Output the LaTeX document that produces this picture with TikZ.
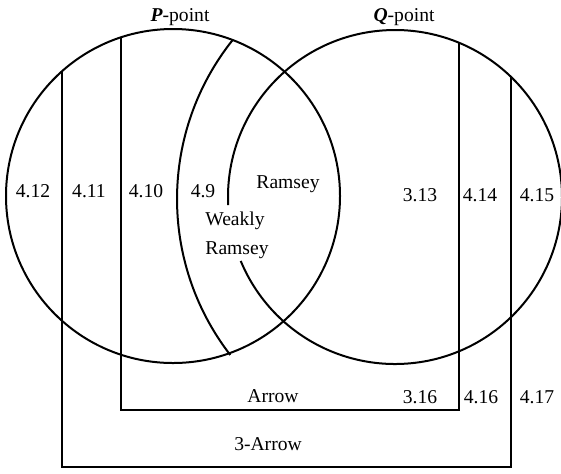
\documentclass[tikz,border=0pt]{standalone}
\usepackage{fontspec}
\setmainfont{Liberation Serif}
\begin{document}
\begin{tikzpicture}[x=0.5pt,y=-0.5pt,
  circ/.style={line width=1pt},
  bar/.style={line width=0.85pt},
  lab/.style={anchor=base,inner sep=0pt,font=\fontsize{9.8}{11}\selectfont}]
\useasboundingbox (0,0) rectangle (561,473);
\fill[white] (0,0) rectangle (561,473);
% centres
\coordinate (cL) at (173,196);
\coordinate (cR) at (395,197);
\coordinate (cW) at (432,199);
% left circle (P-point)
\draw[circ] (cL) circle[radius=167];
% right circle (Q-point), with a gap for "Weakly Ramsey"
\draw[circ] (cR) ++(177.2:167) arc[start angle=177.2, end angle=517.5, radius=167];
% weakly Ramsey arc (4.9 boundary)
\draw[circ] (cW) ++(218.6:255) arc[start angle=218.6, end angle=142.3, radius=255];
% top points of vertical bars
\path (cL) ++({180+acos(111/167)}:167) coordinate (t62);
\path (cL) ++({180+acos(52/167)}:167) coordinate (t121);
\path (cR) ++({360-acos(64/167)}:167) coordinate (t459);
\path (cR) ++({360-acos(116/167)}:167) coordinate (t511);
\coordinate (b121) at (121,410);
\coordinate (b459) at (459,410);
\coordinate (b62) at (62,467);
\coordinate (b511) at (511,467);
% Arrow box
\draw[bar] (t121) -- (b121) -- (b459) -- (t459);
% 3-Arrow box
\draw[bar] (t62) -- (b62) -- (b511) -- (t511);
% labels
\node[lab] (pp) at (180,21) {\textbf{\textit{P}}-point};
\node[lab] (qp) at (404,21) {\textbf{\textit{Q}}-point};
\node[lab] (l412) at (33,197) {4.12};
\node[lab] (l411) at (89,197) {4.11};
\node[lab] (l410) at (146,197) {4.10};
\node[lab] (l49) at (203,197) {4.9};
\node[lab] (ram) at (288,188) {Ramsey};
\node[lab] (wk) at (235,225) {Weakly};
\node[lab] (wr) at (237,254) {Ramsey};
\node[lab] (l313) at (420,201) {3.13};
\node[lab] (l414) at (480,201) {4.14};
\node[lab] (l415) at (537,201) {4.15};
\node[lab] (arr) at (273,402) {Arrow};
\node[lab] (l316) at (420,403) {3.16};
\node[lab] (l416) at (481,403) {4.16};
\node[lab] (l417) at (537,403) {4.17};
\node[lab] (arr3) at (268,450) {3-Arrow};
\end{tikzpicture}
\end{document}
